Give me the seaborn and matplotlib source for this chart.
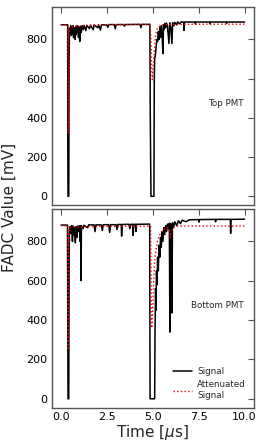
import matplotlib
matplotlib.use("Agg")
import matplotlib.pyplot as plt
import seaborn as sns
import pandas as pd

# ---------------- data ----------------
top_sig_t = [0.00, 0.36, 0.37, 0.38, 0.42, 0.44, 0.46, 0.50, 0.53, 0.56, 0.59, 0.62, 0.65, 0.68, 0.71,
             0.74, 0.77, 0.80, 0.83, 0.86, 0.89, 0.92, 0.95, 0.98, 1.02, 1.06, 1.10, 1.15, 1.20, 1.25,
             1.35, 1.40, 1.55, 1.60, 1.75, 1.80, 2.00, 2.05, 2.15, 2.20, 2.50, 2.55, 2.60, 2.90, 2.95,
             3.00, 3.40, 3.45, 3.50, 4.30, 4.35, 4.40, 4.84, 4.86, 4.88, 4.90, 5.06, 5.08, 5.10, 5.14,
             5.18, 5.22, 5.26, 5.30, 5.34, 5.38, 5.42, 5.46, 5.50, 5.55, 5.58, 5.62, 5.66, 5.70, 5.75,
             5.80, 5.88, 5.92, 5.98, 6.04, 6.08, 6.15, 6.20, 6.30, 6.35, 6.45, 6.55, 6.68, 6.70, 6.73,
             7.30, 7.32, 7.34, 8.10, 8.12, 8.14, 9.00, 9.02, 9.04, 10.00]
top_sig_v = [875, 875, 200, 0, 0, 700, 860, 850, 870, 820, 865, 830, 870, 810, 860,
             845, 800, 865, 825, 870, 840, 868, 810, 865, 790, 868, 835, 870, 850, 872,
             845, 872, 855, 873, 850, 874, 860, 874, 848, 875, 874, 862, 876, 876, 855,
             876, 876, 868, 876, 877, 860, 877, 877, 430, 200, 0, 0, 600, 700, 720,
             760, 800, 790, 840, 800, 860, 810, 870, 840, 728, 875, 850, 882, 860, 884,
             865, 779, 885, 860, 779, 886, 870, 887, 875, 890, 880, 890, 888, 846, 889,
             889, 878, 889, 889, 880, 889, 889, 882, 889, 889]

top_att_t = [0.00, 0.37, 0.40, 0.43, 0.46, 0.50, 0.60, 0.80, 1.00, 1.50, 2.00, 3.00, 4.00, 4.85,
             4.90, 4.94, 4.97, 5.00, 5.05, 5.10, 5.15, 5.20, 5.30, 5.40, 5.60, 6.00, 8.00, 10.00]
top_att_v = [875, 875, 320, 830, 860, 865, 862, 868, 866, 872, 874, 876, 877, 877,
             800, 650, 595, 640, 700, 760, 820, 848, 862, 870, 875, 877, 878, 878]

bot_sig_t = [0.00, 0.35, 0.37, 0.38, 0.42, 0.44, 0.46, 0.50, 0.54, 0.58, 0.62, 0.66, 0.70, 0.74,
             0.78, 0.82, 0.86, 0.90, 0.95, 1.00, 1.04, 1.07, 1.09, 1.11, 1.20, 1.25, 1.45, 1.50,
             1.80, 1.85, 1.90, 2.20, 2.25, 2.30, 2.60, 2.65, 2.70, 3.00, 3.05, 3.10, 3.28, 3.30,
             3.33, 3.70, 3.75, 3.80, 3.90, 3.93, 3.96, 4.05, 4.08, 4.11, 4.83, 4.85, 5.10, 5.12,
             5.15, 5.17, 5.20, 5.23, 5.26, 5.30, 5.34, 5.38, 5.42, 5.46, 5.50, 5.55, 5.60, 5.65,
             5.70, 5.75, 5.80, 5.85, 5.90, 5.93, 5.96, 6.00, 6.04, 6.07, 6.12, 6.20, 6.30, 6.40,
             6.50, 6.60, 6.80, 7.00, 7.50, 7.52, 7.54, 8.40, 8.42, 8.44, 9.22, 9.24, 9.26, 10.00]
bot_sig_v = [883, 883, 300, 0, 0, 700, 860, 875, 840, 880, 800, 878, 830, 870,
             793, 875, 820, 878, 850, 880, 800, 880, 601, 880, 865, 882, 870, 884,
             884, 850, 884, 884, 855, 885, 885, 845, 885, 885, 860, 886, 886, 827,
             886, 887, 865, 887, 887, 830, 887, 887, 850, 887, 888, 0, 0, 340,
             560, 450, 650, 580, 720, 650, 780, 720, 820, 770, 850, 800, 870, 835,
             880, 850, 888, 865, 892, 339, 890, 880, 436, 895, 870, 900, 880, 905,
             890, 908, 900, 910, 911, 898, 911, 912, 900, 912, 912, 841, 912, 913]

bot_att_t = [0.00, 0.37, 0.40, 0.43, 0.46, 0.60, 1.00, 2.00, 4.00, 4.88, 4.91, 4.94, 5.00, 5.05,
             5.10, 5.15, 5.25, 5.35, 5.45, 5.60, 5.80, 5.90, 5.95, 6.00, 6.10, 6.30, 8.00, 10.00]
bot_att_v = [880, 880, 257, 830, 870, 872, 874, 876, 877, 877, 600, 360, 450, 600,
             700, 742, 800, 830, 844, 860, 872, 850, 819, 840, 870, 878, 878, 878]

x_ticks = [0.0, 2.5, 5.0, 7.5, 10.0]
y_ticks = [0, 200, 400, 600, 800]
panel_labels = ["Top PMT", "Bottom PMT"]
legend_labels = ["Signal", "Attenuated\nSignal"]

# ---------------- plot ----------------
sns.set_style("white")
plt.rcParams['font.family'] = ['DejaVu Sans']

fig = plt.figure(figsize=(2.66, 4.46), dpi=100)
ax_top = fig.add_axes([0.195, 0.540, 0.759, 0.444])
ax_bot = fig.add_axes([0.195, 0.086, 0.759, 0.4455])

panels = [
    (ax_top, top_sig_t, top_sig_v, top_att_t, top_att_v, panel_labels[0]),
    (ax_bot, bot_sig_t, bot_sig_v, bot_att_t, bot_att_v, panel_labels[1]),
]

spine_col = "#555555"
for ax, st, sv, at, av, lab in panels:
    df_s = pd.DataFrame({"t": st, "v": sv})
    df_a = pd.DataFrame({"t": at, "v": av})
    sns.lineplot(data=df_s, x="t", y="v", ax=ax, sort=False, estimator=None,
                 color="black", linewidth=1.1, label=legend_labels[0])
    sns.lineplot(data=df_a, x="t", y="v", ax=ax, sort=False, estimator=None,
                 color="red", linewidth=1.0, linestyle=":", label=legend_labels[1])
    ax.set_xlim(-0.5, 10.5)
    ax.set_ylim(-45, 965)
    ax.set_xticks(x_ticks)
    ax.set_yticks(y_ticks)
    ax.set_xlabel("")
    ax.set_ylabel("")
    ax.tick_params(direction="in", length=4, width=0.8, top=True, right=True,
                   labelsize=8, color=spine_col, labelcolor="black", pad=3)
    for sp in ax.spines.values():
        sp.set_color(spine_col)
        sp.set_linewidth(1.0)
    ax.text(0.95, 0.515, lab, transform=ax.transAxes, ha="right", va="center", fontsize=6.3)

ax_top.get_legend().remove()
ax_top.tick_params(labelbottom=False)
ax_bot.legend(loc="lower right", frameon=False, fontsize=6.3, handlelength=2.2,
              borderaxespad=0.5, labelspacing=0.5, handletextpad=0.6)
ax_bot.set_xlabel(r"Time [$\mu$s]", fontsize=11, labelpad=1)
fig.text(0.035, 0.536, "FADC Value [mV]", rotation=90, ha="center", va="center", fontsize=11)

fig.savefig("out.png", dpi=100)
